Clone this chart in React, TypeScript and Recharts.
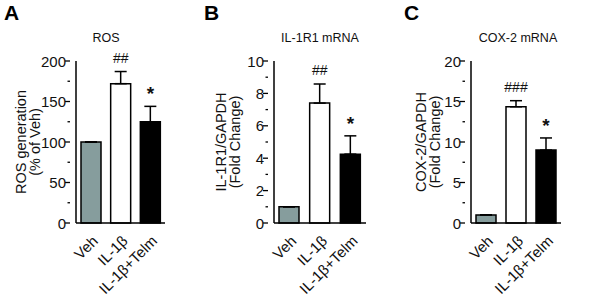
import React from "react";
import { BarChart, Bar, XAxis, YAxis, ErrorBar, Cell, LabelList } from "recharts";

const groups = ["Veh", "IL-1β", "IL-1β+Telm"];
const barColors = ["#869d9d", "#ffffff", "#000000"];

// A: ROS
const rosMean = [100, 172, 125];
const rosErr = [0, 15, 19];
const rosMarks = ["", "##", "*"];
const rosTicks = [0, 25, 50, 75, 100, 125, 150, 175, 200];
const rosMajor = [0, 50, 100, 150, 200];

// B: IL-1R1 mRNA
const il1r1Mean = [1.0, 7.4, 4.25];
const il1r1Err = [0, 1.18, 1.13];
const il1r1Marks = ["", "##", "*"];
const il1r1Ticks = [0, 1, 2, 3, 4, 5, 6, 7, 8, 9, 10];
const il1r1Major = [0, 2, 4, 6, 8, 10];

// C: COX-2 mRNA
const coxMean = [1.0, 14.35, 9.0];
const coxErr = [0, 0.75, 1.5];
const coxMarks = ["", "###", "*"];
const coxTicks = [0, 2.5, 5, 7.5, 10, 12.5, 15, 17.5, 20];
const coxMajor = [0, 5, 10, 15, 20];

const FONT = "Arial, 'Liberation Sans', sans-serif";

const YTick = ({ x, y, payload, majors }: any) => {
  const major = majors.includes(payload.value);
  return (
    <g>
      <line x1={x - (major ? 5 : 2.5)} x2={x} y1={y} y2={y} stroke="#000" strokeWidth={1.3} />
      {major && (
        <text x={x - 4} y={y} dy={5.5} textAnchor="end" fontSize={15} fontFamily={FONT} fill="#111">
          {payload.value}
        </text>
      )}
    </g>
  );
};

const XTick = ({ x, y, payload }: any) => (
  <text
    transform={`translate(${x + 8},${y + 13}) rotate(-45)`}
    textAnchor="end"
    fontSize={15}
    fontFamily={FONT}
    fill="#111"
  >
    {payload.value}
  </text>
);

interface PanelProps {
  left: number;
  letter: string;
  title: string;
  titleX: number;
  yLines: string[];
  means: number[];
  errs: number[];
  marks: string[];
  ticks: number[];
  majors: number[];
  axisW: number;
  rightM: number;
}

function Panel(p: PanelProps) {
  const data = groups.map((g, i) => ({
    name: g,
    mean: p.means[i],
    err: [0, p.errs[i]],
    mark: p.marks[i],
  }));
  const max = p.ticks[p.ticks.length - 1];

  return (
    <div style={{ position: "absolute", left: p.left, top: 0, width: 200, height: 298 }}>
      <div
        style={{
          position: "absolute",
          left: 4,
          top: 2,
          fontSize: 21,
          lineHeight: "21px",
          fontWeight: "bold",
          fontFamily: FONT,
        }}
      >
        {p.letter}
      </div>
      <div
        style={{
          position: "absolute",
          left: p.titleX - 60,
          width: 120,
          top: 31,
          textAlign: "center",
          fontSize: 12.5,
          lineHeight: "14px",
          fontFamily: FONT,
          color: "#111",
        }}
      >
        {p.title}
      </div>
      <BarChart
        width={200}
        height={298}
        data={data}
        margin={{ top: 61, right: p.rightM, bottom: 0, left: 0 }}
        barSize={20}
      >
        <XAxis
          dataKey="name"
          height={75}
          tickLine={false}
          tickMargin={0}
          axisLine={{ stroke: "#000", strokeWidth: 1.5 }}
          tick={<XTick />}
          interval={0}
        />
        <YAxis
          width={p.axisW}
          domain={[0, max]}
          ticks={p.ticks}
          interval={0}
          tickLine={false}
          tickMargin={0}
          axisLine={{ stroke: "#000", strokeWidth: 1.5 }}
          tick={<YTick majors={p.majors} />}
          label={{
            content: (lp: any) => {
              const vb = lp.viewBox || { y: 61, height: 162 };
              const cy = vb.y + vb.height / 2;
              return (
                <g fontFamily={FONT} fontSize={14.5} fill="#111">
                  <text transform={`translate(26,${cy}) rotate(-90)`} textAnchor="middle">
                    {p.yLines[0]}
                  </text>
                  <text transform={`translate(40,${cy}) rotate(-90)`} textAnchor="middle">
                    {p.yLines[1]}
                  </text>
                </g>
              );
            },
          }}
        />
        <Bar dataKey="mean" stroke="#000" strokeWidth={1.5} isAnimationActive={false}>
          {data.map((d, i) => (
            <Cell key={d.name} fill={barColors[i]} stroke="#000" strokeWidth={1.5} />
          ))}
          <ErrorBar dataKey="err" width={6} stroke="#000" strokeWidth={1.5} direction="y" />
          <LabelList
            dataKey="mark"
            content={(lp: any) => {
              const vb = lp.viewBox || lp;
              const x = lp.x ?? vb.x;
              const y = lp.y ?? vb.y;
              const w = lp.width ?? vb.width;
              const h = lp.height ?? vb.height;
              const i = lp.index;
              const v = lp.value;
              if (!v) return null;
              const top = y - (p.errs[i] * h) / p.means[i];
              const star = v === "*";
              return (
                <text
                  x={x + w / 2}
                  y={star ? top - 6 : top - 9}
                  textAnchor="middle"
                  fontFamily={FONT}
                  fontSize={star ? 19 : 14}
                  fontWeight={star ? "bold" : "normal"}
                  fill="#111"
                >
                  {v}
                </text>
              );
            }}
          />
        </Bar>
      </BarChart>
    </div>
  );
}

export default function App() {
  return (
    <div style={{ position: "absolute", left: 0, top: 0, width: 600, height: 298, background: "#fff" }}>
      <Panel
        left={0}
        letter="A"
        title="ROS"
        titleX={106}
        yLines={["ROS generation", "(% of Veh)"]}
        means={rosMean}
        errs={rosErr}
        marks={rosMarks}
        ticks={rosTicks}
        majors={rosMajor}
        axisW={76}
        rightM={35}
      />
      <Panel
        left={200}
        letter="B"
        title="IL-1R1 mRNA"
        titleX={120}
        yLines={["IL-1R1/GAPDH", "(Fold Change)"]}
        means={il1r1Mean}
        errs={il1r1Err}
        marks={il1r1Marks}
        ticks={il1r1Ticks}
        majors={il1r1Major}
        axisW={74}
        rightM={34}
      />
      <Panel
        left={400}
        letter="C"
        title="COX-2 mRNA"
        titleX={118}
        yLines={["COX-2/GAPDH", "(Fold Change)"]}
        means={coxMean}
        errs={coxErr}
        marks={coxMarks}
        ticks={coxTicks}
        majors={coxMajor}
        axisW={71}
        rightM={39}
      />
    </div>
  );
}
